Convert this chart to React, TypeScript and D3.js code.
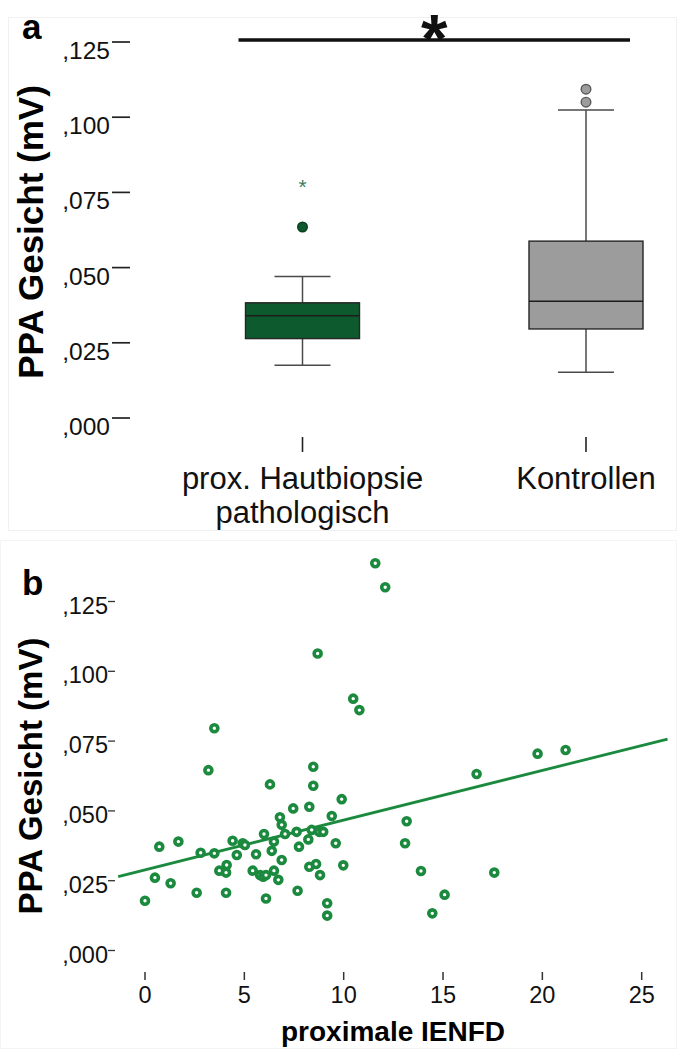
import React from "react";
import * as d3 from "d3";

// ---- Panel a: box plot data (PPA Gesicht, mV) ----
const groupNames = ["prox. Hautbiopsie|pathologisch", "Kontrollen"];
const whiskerLow = [0.0175, 0.0152];
const quartile1 = [0.0264, 0.0296];
const medians = [0.034, 0.0388];
const quartile3 = [0.0383, 0.0588];
const whiskerHigh = [0.047, 0.1024];
const outlierValues = [[0.0635], [0.105, 0.1093]];
const extremeValues = [[0.0785], []];
const groupFills = ["#0e5a2f", "#9c9c9c"];
const groupOutlierStroke = ["#0a3d20", "#5a5a5a"];

// ---- Panel b: scatter data (proximale IENFD vs PPA Gesicht) ----
const ienfd = [
  11.59, 12.09, 8.69, 10.48, 10.79, 3.49, 3.19, 6.29, 8.47, 8.47, 16.69, 19.76, 21.17,
  9.9, 7.46, 8.27, 9.4, 6.79, 6.88, 5.99, 7.63, 7.05, 8.39, 8.77, 8.97, 8.22, 6.49,
  4.41, 4.92, 5.03, 7.75, 9.6, 6.38, 0.72, 1.68, 2.8, 3.49, 4.62, 5.59, 6.88, 4.11,
  3.74, 4.08, 5.42, 5.79, 5.95, 6.09, 6.49, 6.71, 8.27, 8.61, 8.81, 9.98, 0.5, 1.29,
  2.6, 4.08, 6.09, 7.68, 0.0, 9.17, 9.17, 13.17, 13.09, 13.89, 17.58, 15.08, 14.46,
];
const ppaFace = [
  0.1387, 0.1301, 0.1064, 0.0902, 0.0861, 0.0796, 0.0646, 0.0595, 0.0658, 0.059, 0.0632, 0.0705, 0.0718,
  0.0542, 0.0509, 0.0515, 0.0482, 0.0477, 0.045, 0.0417, 0.0425, 0.0417, 0.0432, 0.0425, 0.0425, 0.0398, 0.039,
  0.0393, 0.0384, 0.0378, 0.0372, 0.0384, 0.0357, 0.0372, 0.039, 0.035, 0.0348, 0.0342, 0.0345, 0.0324, 0.0306,
  0.0286, 0.0279, 0.0286, 0.027, 0.0264, 0.027, 0.0286, 0.0253, 0.03, 0.031, 0.027, 0.0305, 0.0261, 0.0241,
  0.0207, 0.0207, 0.0186, 0.0214, 0.0178, 0.0169, 0.0125, 0.0463, 0.0384, 0.0285, 0.0279, 0.02, 0.0133,
];
const fitIntercept = 0.0289;
const fitSlope = 0.00178;
const fitRange = [-1.35, 26.3];

// ---- Axis ticks ----
const yTicks = [0, 0.025, 0.05, 0.075, 0.1, 0.125];
const xTicks = [0, 5, 10, 15, 20, 25];

const FONT = "'Liberation Sans', Arial, Helvetica, sans-serif";
const GREEN = "#1b8a3e";

const fmtY = (v: number) => "," + d3.format(".3f")(v).split(".")[1];

export default function App() {
  // Panel a scales
  const yA = d3.scaleLinear().domain([0, 0.125]).range([418, 42]);
  const xA = d3.scalePoint<string>().domain(groupNames).range([302.5, 586]);
  const boxHalf = 57;
  const capHalf = 28;

  // Panel b scales
  const yB = d3.scaleLinear().domain([0, 0.125]).range([950.5, 601.5]);
  const xB = d3.scaleLinear().domain([0, 25]).range([145, 641.7]);
  const fitLine = d3
    .line<number>()
    .x((d) => xB(d))
    .y((d) => yB(fitIntercept + fitSlope * d));

  const sigLeft = xA(groupNames[0])! - 64;
  const sigRight = xA(groupNames[1])! + 44;

  const [a0, a1] = yA.range();
  const [b0, b1] = yB.range();

  return (
    <svg
      width={677}
      height={1049}
      style={{ position: "absolute", left: 0, top: 0, background: "#fff" }}
      fontFamily={FONT}
    >
      <rect x={0} y={0} width={677} height={1049} fill="#fff" />
      <rect x={8.5} y={17.5} width={668} height={513} fill="none" stroke="#f1f1f1" />
      <rect x={0.5} y={540.5} width={676} height={508} fill="none" stroke="#f4f4f4" />

      {/* ---------- Panel a ---------- */}
      <text x={22} y={39} fontSize={35} fontWeight="bold" fill="#000">a</text>
      <text
        transform={`translate(43,${(a0 + a1) / 2 + 2}) rotate(-90)`}
        textAnchor="middle"
        fontSize={35}
        fontWeight="bold"
        fill="#000"
      >
        PPA Gesicht (mV)
      </text>
      {yTicks.map((t) => (
        <g key={"ya" + t}>
          <line x1={112} x2={130} y1={yA(t)} y2={yA(t)} stroke="#222" strokeWidth={1.7} />
          <text x={110} y={yA(t) + 17} textAnchor="end" fontSize={24.5} fill="#111">
            {fmtY(t)}
          </text>
        </g>
      ))}

      {/* significance bar */}
      <line x1={sigLeft} x2={sigRight} y1={40} y2={40} stroke="#111" strokeWidth={3.5} />
      <text x={(sigLeft + sigRight) / 2} y={62} textAnchor="middle" fontSize={68} fontWeight="bold" fill="#111">
        *
      </text>

      {groupNames.map((g, i) => {
        const cx = xA(g)!;
        const lines = g.split("|");
        return (
          <g key={g}>
            {/* whiskers */}
            <line x1={cx} x2={cx} y1={yA(whiskerHigh[i])} y2={yA(quartile3[i])} stroke="#4a4a4a" strokeWidth={1.5} />
            <line x1={cx} x2={cx} y1={yA(quartile1[i])} y2={yA(whiskerLow[i])} stroke="#4a4a4a" strokeWidth={1.5} />
            <line x1={cx - capHalf} x2={cx + capHalf} y1={yA(whiskerHigh[i])} y2={yA(whiskerHigh[i])} stroke="#4a4a4a" strokeWidth={1.5} />
            <line x1={cx - capHalf} x2={cx + capHalf} y1={yA(whiskerLow[i])} y2={yA(whiskerLow[i])} stroke="#4a4a4a" strokeWidth={1.5} />
            {/* box */}
            <rect
              x={cx - boxHalf}
              y={yA(quartile3[i])}
              width={boxHalf * 2}
              height={yA(quartile1[i]) - yA(quartile3[i])}
              fill={groupFills[i]}
              stroke="#262626"
              strokeWidth={1.4}
            />
            <line x1={cx - boxHalf} x2={cx + boxHalf} y1={yA(medians[i])} y2={yA(medians[i])} stroke="#1c1c1c" strokeWidth={1.6} />
            {/* outliers */}
            {outlierValues[i].map((v) => (
              <circle key={v} cx={cx} cy={yA(v)} r={4.8} fill={groupFills[i]} stroke={groupOutlierStroke[i]} strokeWidth={1.4} />
            ))}
            {extremeValues[i].map((v) => (
              <text key={v} x={cx} y={yA(v) + 12} textAnchor="middle" fontSize={21} fill="#3e7a5c">
                *
              </text>
            ))}
            {/* category tick and label */}
            <line x1={cx} x2={cx} y1={437} y2={452} stroke="#222" strokeWidth={1.6} />
            {lines.map((ln, k) => (
              <text key={ln} x={cx} y={489 + k * 34} textAnchor="middle" fontSize={31} fill="#111">
                {ln}
              </text>
            ))}
          </g>
        );
      })}

      {/* ---------- Panel b ---------- */}
      <text x={22} y={595} fontSize={35} fontWeight="bold" fill="#000">b</text>
      <text
        transform={`translate(42,${(b0 + b1) / 2}) rotate(-90)`}
        textAnchor="middle"
        fontSize={33}
        fontWeight="bold"
        fill="#000"
      >
        PPA Gesicht (mV)
      </text>
      {yTicks.map((t) => (
        <g key={"yb" + t}>
          <line x1={108} x2={115} y1={yB(t)} y2={yB(t)} stroke="#333" strokeWidth={1.3} />
          <text x={108} y={yB(t) + 12} textAnchor="end" fontSize={23.5} fill="#111">
            {fmtY(t)}
          </text>
        </g>
      ))}
      {xTicks.map((t) => (
        <g key={"xb" + t}>
          <line x1={xB(t)} x2={xB(t)} y1={972} y2={980} stroke="#333" strokeWidth={1.5} />
          <text x={xB(t)} y={1003} textAnchor="middle" fontSize={23.5} fill="#111">
            {t}
          </text>
        </g>
      ))}
      <text x={393} y={1041} textAnchor="middle" fontSize={28} fontWeight="bold" fill="#000">
        proximale IENFD
      </text>

      <path d={fitLine(fitRange) ?? ""} fill="none" stroke={GREEN} strokeWidth={2.8} />
      {ienfd.map((x, i) => (
        <circle key={i} cx={xB(x)} cy={yB(ppaFace[i])} r={3.5} fill="#fff" stroke={GREEN} strokeWidth={3.6} />
      ))}
    </svg>
  );
}
